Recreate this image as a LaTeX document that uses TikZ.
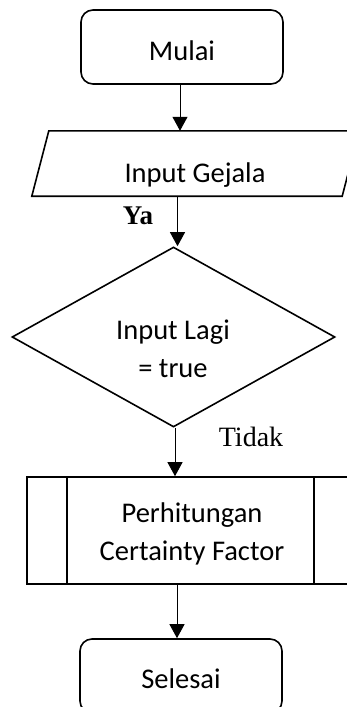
\documentclass[tikz,border=0pt]{standalone}
\usepackage{fontspec}
\setmainfont{Carlito}
\newfontfamily\labelfont{Liberation Serif}
\usetikzlibrary{shapes.geometric,arrows.meta,calc}

\tikzset{
  box/.style={draw, line width=1.6pt, inner sep=0pt, align=center},
  terminal/.style={box, rounded corners=12pt, minimum width=202pt, minimum height=74pt},
  decision/.style={box, diamond, minimum width=323pt, minimum height=180pt},
  plain/.style={inner sep=0pt, align=center, font=\fontsize{28.5}{38.5}\selectfont},
  flow/.style={line width=1pt, -{Triangle[length=14pt,width=15pt]}},
  branch/.style={inner sep=0pt}
}

\begin{document}
\begin{tikzpicture}[x=1pt, y=-1pt]
  \useasboundingbox (0,0) rectangle (347,707);

  % start terminal
  \node[terminal] (mulai) at (182,47) {};
  \node[plain] (mulaitxt) at (182,51) {Mulai};

  % data input (parallelogram drawn around an empty frame node)
  \node[inner sep=0pt, minimum width=310pt, minimum height=65pt] (gejala) at (195.5,163.5) {};
  \draw[line width=1.6pt]
    ([xshift=8.5pt]gejala.north west) -- ([xshift=8.5pt]gejala.north east)
    -- ([xshift=-8.5pt]gejala.south east) -- ([xshift=-8.5pt]gejala.south west) -- cycle;
  \node[plain] (gejalatxt) at (195,175) {Input Gejala};

  % decision
  \node[decision] (lagi) at (173.5,337) {};
  \node[plain] (lagitxt) at (173,349) {Input Lagi\\= true};

  % predefined process
  \node[box, minimum width=327pt, minimum height=107pt] (proc) at (190.5,530.5) {};
  \draw[line width=1.6pt] ([xshift=41pt]proc.north west) -- ([xshift=41pt]proc.south west);
  \draw[line width=1.6pt] ([xshift=-41pt]proc.north east) -- ([xshift=-41pt]proc.south east);
  \node[plain] (proctxt) at (192,534) {Perhitungan\\Certainty Factor};

  % end terminal
  \node[terminal] (selesai) at (181,676) {};
  \node[plain] (selesaitxt) at (181,679) {Selesai};

  % connectors
  \draw[flow] ([xshift=-2pt]mulai.south) -- ([xshift=-2pt]mulai.south |- gejala.north);
  \draw[flow] ([xshift=4pt]lagi.north |- gejala.south) -- ([xshift=4pt]lagi.north);
  \draw[flow] ([xshift=1.5pt]lagi.south) -- ([xshift=1.5pt]lagi.south |- proc.north);
  \draw[flow] ([xshift=-4pt]selesai.north |- proc.south) -- ([xshift=-4pt]selesai.north);

  % branch labels
  \node[branch, font=\labelfont\bfseries\fontsize{27}{30}\selectfont] (ya) at (138,216) {Ya};
  \node[branch, font=\labelfont\fontsize{28}{30}\selectfont] (tidak) at (251,437) {Tidak};
\end{tikzpicture}
\end{document}
